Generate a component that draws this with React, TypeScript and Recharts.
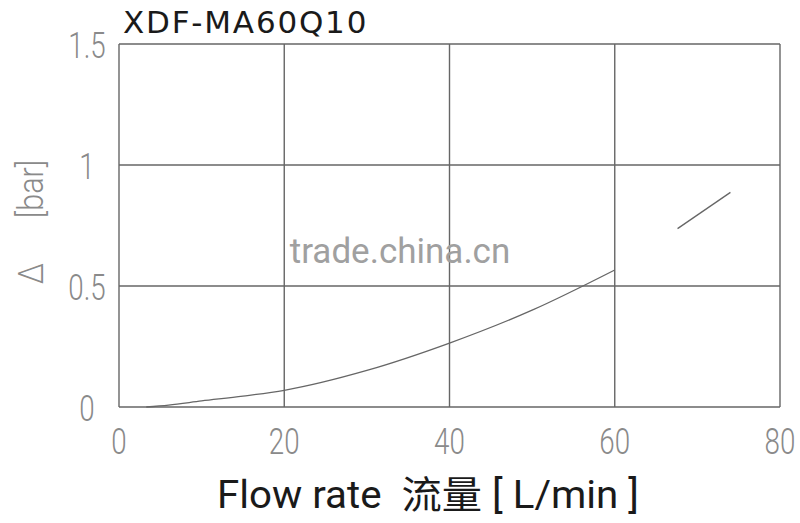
import React from 'react';
import { LineChart, Line, XAxis, YAxis, CartesianGrid, Customized } from 'recharts';

const flowLow = [3.3, 6, 10, 15, 20, 30, 40, 50, 60];
const dpLow = [0, 0.008, 0.025, 0.045, 0.069, 0.151, 0.264, 0.4, 0.566];
const flowHigh = [67.6, 74];
const dpHigh = [0.737, 0.887];

const xTicks = [0, 20, 40, 60, 80];
const yTicks = [0, 0.5, 1, 1.5];
const yTickLabels = ['0', '0.5', '1', '1.5'];

const lowData = flowLow.map((q, i) => ({ q, dp: dpLow[i] }));
const highData = flowHigh.map((q, i) => ({ q, dp: dpHigh[i] }));

const thinFont = 'Roboto, "Noto Sans CJK SC", sans-serif';

// condensed text: squeeze horizontally around its anchor point
const Narrow = ({ x, y, sx = 0.72, size = 34, fill = '#8a8a8a', weight = 300, anchor = 'middle', children }: any) => (
  <text
    transform={`translate(${x} ${y}) scale(${sx} 1)`}
    textAnchor={anchor}
    fontFamily={thinFont}
    fontWeight={weight}
    fontSize={size}
    fill={fill}
    xmlSpace="preserve"
  >
    {children}
  </text>
);

const XTick = (props: any) => {
  const { x, y, payload } = props;
  return (
    <Narrow x={x} y={y + 39} size={37} sx={0.75}>
      {payload.value}
    </Narrow>
  );
};

const YTick = (props: any) => {
  const { y, payload } = props;
  const i = yTicks.indexOf(payload.value);
  return (
    <Narrow x={87} y={y + 14} size={37} sx={0.75}>
      {yTickLabels[i]}
    </Narrow>
  );
};

const Labels = () => (
  <g>
    <text x={123} y={33} fontFamily='"DejaVu Sans", sans-serif' fontSize={31} letterSpacing={1.8} fill="#1a1a1a">
      XDF-MA60Q10
    </text>
    <g transform="translate(43 222) rotate(-90)">
      <Narrow x={0} y={0} size={36} sx={0.85}>
        {'Δ      [bar]'}
      </Narrow>
    </g>
    <Narrow x={428} y={508} size={38} sx={1.06} fill="#1a1a1a" weight={400}>
      {'Flow rate  流量 [ L/min ]'}
    </Narrow>
    <text x={400} y={263} textAnchor="middle" fontFamily="Roboto, sans-serif" fontSize={35} fill="#a0a0a0">
      trade.china.cn
    </text>
  </g>
);

export default function App() {
  return (
    <div style={{ position: 'absolute', left: 0, top: 0, width: 800, height: 523, background: '#fff' }}>
      <LineChart width={800} height={523} margin={{ top: 44, right: 20, bottom: 0, left: 0 }}>
        <CartesianGrid stroke="#666" strokeWidth={1.4} horizontalValues={yTicks} verticalValues={xTicks} />
        <XAxis
          dataKey="q"
          type="number"
          domain={[0, 80]}
          ticks={xTicks}
          axisLine={false}
          tickLine={false}
          height={116}
          tick={<XTick />}
          allowDataOverflow
        />
        <YAxis
          type="number"
          domain={[0, 1.5]}
          ticks={yTicks}
          axisLine={false}
          tickLine={false}
          width={119}
          tick={<YTick />}
        />
        <Line data={lowData} dataKey="dp" type="monotone" stroke="#666" strokeWidth={1.3} dot={false} isAnimationActive={false} />
        <Line data={highData} dataKey="dp" type="linear" stroke="#666" strokeWidth={1.3} dot={false} isAnimationActive={false} />
        <Customized component={Labels} />
      </LineChart>
    </div>
  );
}
